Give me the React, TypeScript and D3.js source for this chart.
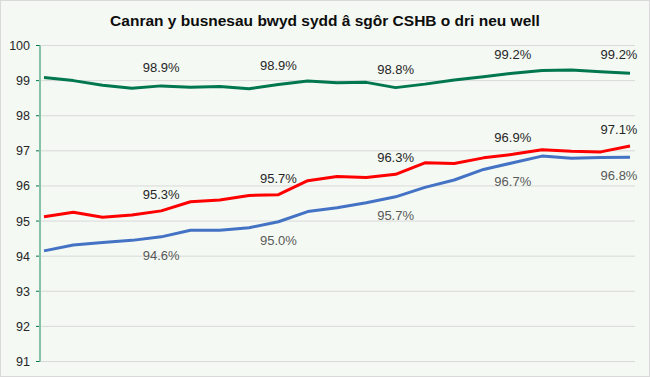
import React from "react";
import * as d3 from "d3";

const W = 650;
const H = 377;

const title = "Canran y busnesau bwyd sydd â sgôr CSHB o dri neu well";
const yTicks = [91, 92, 93, 94, 95, 96, 97, 98, 99, 100];

const greenSeries = [99.09, 99.0, 98.87, 98.78, 98.85, 98.81, 98.83, 98.77, 98.89, 98.99, 98.94, 98.95, 98.8, 98.9, 99.02, 99.11, 99.21, 99.29, 99.3, 99.25, 99.21];
const redSeries = [95.12, 95.25, 95.11, 95.17, 95.29, 95.55, 95.6, 95.73, 95.75, 96.15, 96.27, 96.24, 96.33, 96.66, 96.64, 96.8, 96.9, 97.03, 96.99, 96.97, 97.14];
const blueSeries = [94.15, 94.32, 94.39, 94.45, 94.55, 94.74, 94.74, 94.81, 94.98, 95.27, 95.38, 95.52, 95.69, 95.96, 96.17, 96.47, 96.66, 96.85, 96.79, 96.81, 96.82];

const greenLabels = ["", "", "", "", "98.9%", "", "", "", "98.9%", "", "", "", "98.8%", "", "", "", "99.2%", "", "", "", "99.2%"];
const redLabels = ["", "", "", "", "95.3%", "", "", "", "95.7%", "", "", "", "96.3%", "", "", "", "96.9%", "", "", "", "97.1%"];
const blueLabels = ["", "", "", "", "94.6%", "", "", "", "95.0%", "", "", "", "95.7%", "", "", "", "96.7%", "", "", "", "96.8%"];

const FONT = "'Liberation Sans', Arial, sans-serif";

export default function App() {
  const idx = d3.range(greenSeries.length);
  const x = d3.scalePoint<number>().domain(idx).range([44, 630]);
  const y = d3.scaleLinear().domain([91, 100]).range([361.5, 45.5]);
  const line = d3
    .line<number>()
    .x((_, i) => x(i) as number)
    .y((d) => y(d));

  const series = [
    { data: greenSeries, color: "#00774F", labels: greenLabels, dy: -14, labelColor: "#262626" },
    { data: redSeries, color: "#FF0000", labels: redLabels, dy: -12, labelColor: "#262626" },
    { data: blueSeries, color: "#4472C4", labels: blueLabels, dy: 23, labelColor: "#595959" },
  ];

  return (
    <svg
      width={W}
      height={H}
      style={{ position: "absolute", left: 0, top: 0, display: "block" }}
      fontFamily={FONT}
    >
      <rect x={0.5} y={0.5} width={W - 1} height={H - 1} fill="#F4F9F3" stroke="#D9D9D9" strokeWidth={1} />
      <text x={325} y={26} textAnchor="middle" fontSize={15.5} fontWeight="bold" fill="#0D0D0D">
        {title}
      </text>
      {yTicks.map((t) => (
        <g key={t}>
          <line x1={40} x2={635} y1={y(t)} y2={y(t)} stroke="#D9D9D9" strokeWidth={1} />
          <line x1={36} x2={40} y1={y(t)} y2={y(t)} stroke="#00774F" strokeWidth={1} />
          <text x={30} y={y(t) + 4.5} textAnchor="end" fontSize={12.5} fill="#262626">
            {t}
          </text>
        </g>
      ))}
      <line x1={40} x2={40} y1={y(100)} y2={y(91)} stroke="#85C2A6" strokeWidth={2} />
      {series.map((s, k) => (
        <path key={k} d={line(s.data) || ""} fill="none" stroke={s.color} strokeWidth={3} strokeLinejoin="round" />
      ))}
      {series.map((s, k) =>
        s.data.map((v, i) =>
          s.labels[i] ? (
            <text
              key={`${k}-${i}`}
              x={Math.min(x(i) as number, 619)}
              y={y(v) + s.dy}
              textAnchor="middle"
              fontSize={13}
              fill={s.labelColor}
            >
              {s.labels[i]}
            </text>
          ) : null
        )
      )}
    </svg>
  );
}
